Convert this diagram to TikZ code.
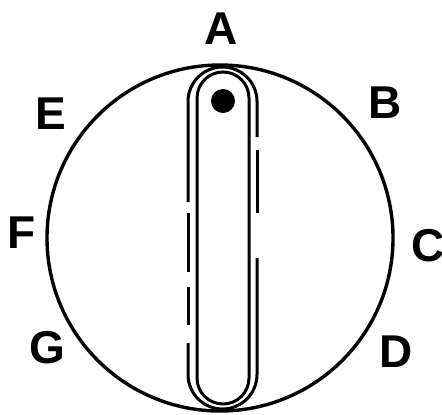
\documentclass[tikz,border=0pt]{standalone}
\usepackage{fontspec}
\setsansfont{Liberation Sans}
\usepackage{tikz}

\begin{document}
\begin{tikzpicture}[x=0.5pt,y=0.5pt,
  setting/.style={font=\sffamily\bfseries\fontsize{23}{23}\selectfont,inner sep=0pt},
  rim/.style={line width=1.7pt},
  slot/.style={line width=1.5pt}]
\useasboundingbox (0,0) rectangle (442,414);
% dial
\coordinate (m) at (220,176);
\draw[rim] (m) circle [radius=86.5pt];
% slot, inner and broken outer line
\draw[slot,rounded corners=13pt] (197,10) rectangle (249,342);
\draw[slot] (188,212) -- (188,312.5) arc [start angle=180,end angle=0,radius=17.25pt] -- (257,277);
\draw[slot] (257,264) -- (257,201);
\draw[slot] (188,201) -- (188,142);
\draw[slot] (188,127) -- (188,89);
\draw[slot] (188,71) -- (188,39.5) arc [start angle=180,end angle=360,radius=17.25pt] -- (257,156);
\fill (223,313) circle [radius=6pt];
% positions
\node[setting] (a) at (221,385) {A};
\node[setting] (b) at (385,311) {B};
\node[setting] (c) at (428,168) {C};
\node[setting] (d) at (396,62) {D};
\node[setting] (e) at (51,300) {E};
\node[setting] (f) at (22,181) {F};
\node[setting] (g) at (47,66) {G};
\end{tikzpicture}
\end{document}
